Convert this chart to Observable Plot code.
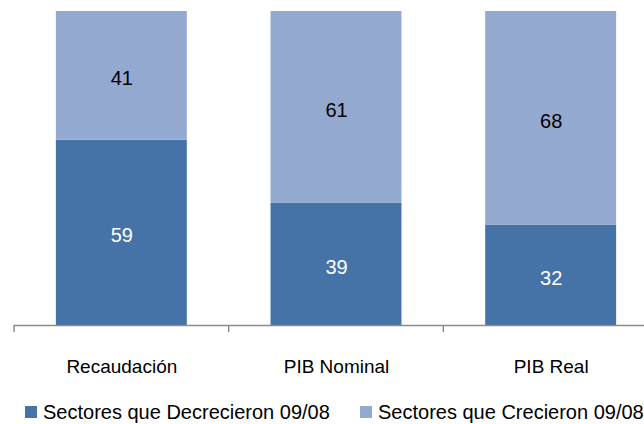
<!DOCTYPE html>
<html>
<head>
<meta charset="utf-8">
<script src="https://cdn.jsdelivr.net/npm/d3@7"></script>
<script src="https://cdn.jsdelivr.net/npm/@observablehq/plot@0.6"></script>
<style>
  html, body { margin: 0; padding: 0; background: #fff; overflow: hidden; }
  #chart { width: 644px; }
  .legend { height: 36px; padding-top: 12px; box-sizing: border-box; display: flex; align-items: center;
            font-family: "Liberation Sans", Arial, sans-serif; font-size: 20px; line-height: 20px; color: #000; padding-left: 25px; }
  .item { display: flex; align-items: center; }
  .sw { width: 12px; height: 12px; margin-right: 6px; flex: none; }
</style>
</head>
<body>
<div id="chart"></div>
<script>
const categories = ["Recaudación", "PIB Nominal", "PIB Real"];
const seriesNames = ["Sectores que Decrecieron 09/08", "Sectores que Crecieron 09/08"];
const decrecieron = [59, 39, 32];
const crecieron = [41, 61, 68];
const colors = ["#4572A7", "#93A9CF"];

const table = [];
categories.forEach((c, i) => {
  table.push({category: c, series: seriesNames[0], value: decrecieron[i]});
  table.push({category: c, series: seriesNames[1], value: crecieron[i]});
});

const xRange = [14, 658];
const axisColor = "#8c8c8c";

function boundaryTicks(index, scales, values, dimensions) {
  const x = scales.x;
  const bw = typeof x.bandwidth === "function" ? x.bandwidth() : (scales.scales && scales.scales.x ? scales.scales.x.bandwidth : 0);
  const st = typeof x.step === "function" ? x.step() : (scales.scales && scales.scales.x ? scales.scales.x.step : 0);
  const y0 = scales.y(0);
  const xs = categories.map(c => x(c) + bw / 2 - st / 2);
  xs.push(x(categories[categories.length - 1]) + bw / 2 + st / 2);
  const g = d3.create("svg:g");
  g.selectAll("line").data(xs).join("line")
    .attr("x1", d => d).attr("x2", d => d)
    .attr("y1", y0).attr("y2", y0 + 7)
    .attr("stroke", axisColor).attr("stroke-width", 1.5);
  return g.node();
}

const chart = Plot.plot({
  width: 644,
  height: 388,
  marginTop: 11,
  marginBottom: 63,
  marginLeft: 14,
  marginRight: 0,
  style: {fontFamily: "'Liberation Sans', Arial, sans-serif", fontSize: "19px", color: "#000", background: "#fff"},
  x: {type: "band", domain: categories, range: xRange, paddingInner: 0.39, paddingOuter: 0.195, round: false, label: null},
  y: {domain: [0, 100], axis: null},
  color: {domain: seriesNames, range: colors},
  marks: [
    Plot.barY(table, {x: "category", y: "value", fill: "series", order: seriesNames}),
    Plot.text(table.filter(d => d.series === seriesNames[0]), Plot.stackY({x: "category", y: "value", text: d => String(d.value), fill: "white", fontSize: 20, dy: 3})),
    Plot.text(table, Plot.stackY({x: "category", y: "value", z: "series", order: seriesNames, text: d => d.series === seriesNames[1] ? String(d.value) : "", fill: "black", fontSize: 20, dy: 3})),
    Plot.ruleY([0], {stroke: axisColor, strokeWidth: 1.5}),
    boundaryTicks,
    Plot.axisX({tickSize: 0, tickPadding: 34, fontSize: 19, label: null})
  ]
});

const container = document.getElementById("chart");
container.appendChild(chart);

const legend = document.createElement("div");
legend.className = "legend";
const widths = [335, null];
seriesNames.forEach((s, i) => {
  const item = document.createElement("div");
  item.className = "item";
  if (widths[i]) item.style.width = widths[i] + "px";
  const sw = document.createElement("span");
  sw.className = "sw";
  sw.style.background = colors[i];
  const t = document.createElement("span");
  t.textContent = s;
  t.style.whiteSpace = "nowrap";
  item.appendChild(sw);
  item.appendChild(t);
  legend.appendChild(item);
});
container.appendChild(legend);
</script>
</body>
</html>
